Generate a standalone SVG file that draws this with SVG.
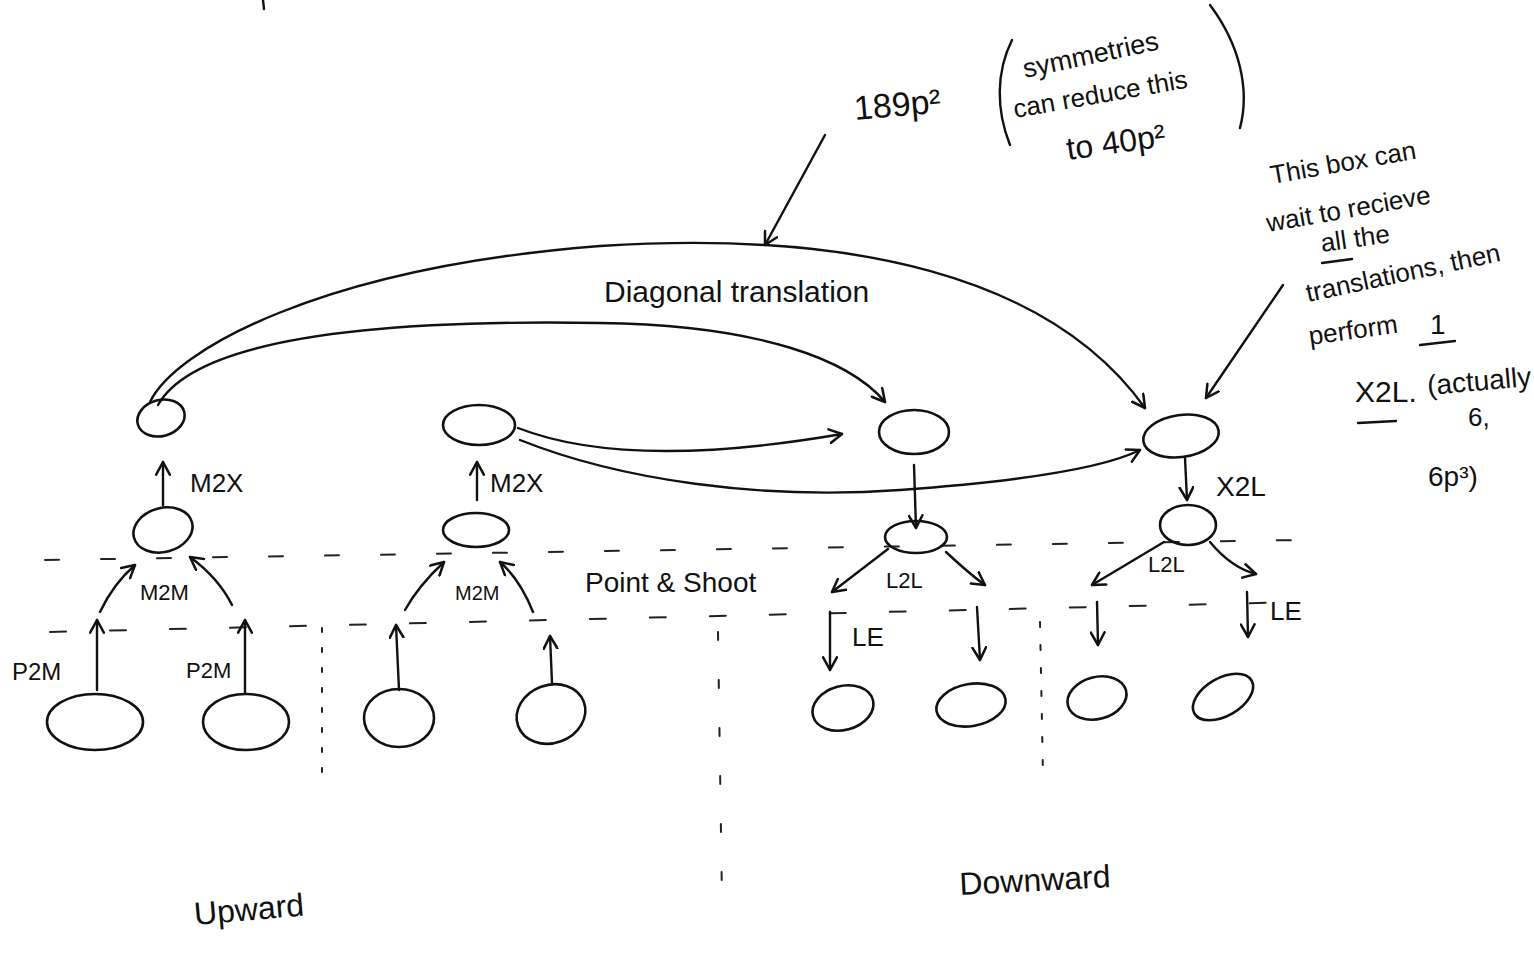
<svg xmlns="http://www.w3.org/2000/svg" width="1534" height="963" viewBox="0 0 1534 963">
<defs>
<marker id="ah" viewBox="0 0 14 14" refX="12" refY="7" markerWidth="16" markerHeight="16" markerUnits="userSpaceOnUse" orient="auto">
<path d="M1,1 L12,7 L1,13" fill="none" stroke="#111" stroke-width="2.2" stroke-linecap="round" stroke-linejoin="round"/>
</marker>
<style>
.n{fill:none;stroke:#111;stroke-width:2.6}
.c{fill:none;stroke:#111;stroke-width:2.4;stroke-linecap:round;marker-end:url(#ah)}
.l{fill:none;stroke:#111;stroke-width:2.4;stroke-linecap:round}
.d{fill:none;stroke:#222;stroke-width:2;stroke-linecap:round}
.t{font-family:"Liberation Sans",Arial,sans-serif;fill:#111}
</style>
</defs>
<rect width="1534" height="963" fill="#fff"/>
<line class="l" x1="263" y1="0" x2="264" y2="9"/>

<!-- dashed level lines -->
<g id="levels">
<path class="d" d="M45,560 L1300,540" stroke-dasharray="14 42"/>
<path class="d" d="M50,632 L1300,602" stroke-dasharray="16 44"/>
<path class="d" d="M322,628 L322,780" stroke-dasharray="4 16"/>
<path class="d" d="M718,632 L722,900" stroke-dasharray="8 40"/>
<path class="d" d="M1040,622 L1043,775" stroke-dasharray="5 18"/>
</g>

<g id="connectors">
<!-- long arcs -->
<path class="c" d="M150,402 C175,350 320,268 600,246 C850,230 1050,275 1145,408"/>
<path class="c" d="M158,405 C200,330 420,320 600,323 C760,325 850,360 885,402"/>
<path class="c" d="M518,428 C600,460 720,455 842,434"/>
<path class="c" d="M520,440 C620,480 760,500 900,490 C1010,482 1100,470 1140,450"/>
<!-- annotation arrows -->
<path class="c" d="M825,135 L765,245"/>
<path class="c" d="M1283,285 L1206,398"/>
<!-- upward left -->
<path class="c" d="M163,505 L163,462"/>
<path class="c" d="M100,612 C108,595 120,578 135,565"/>
<path class="c" d="M232,605 C222,585 205,568 190,557"/>
<path class="c" d="M97,690 L97,620"/>
<path class="c" d="M245,693 L245,620"/>
<!-- upward right -->
<path class="c" d="M477,500 L477,462"/>
<path class="c" d="M405,610 C415,592 430,575 444,562"/>
<path class="c" d="M533,612 C525,592 515,575 500,562"/>
<path class="c" d="M399,690 L396,625"/>
<path class="c" d="M552,683 L550,636"/>
<!-- downward left -->
<path class="c" d="M914,465 L916,528"/>
<path class="c" d="M888,549 L832,592"/>
<path class="c" d="M946,552 C960,565 975,578 985,585"/>
<path class="c" d="M830,612 L830,670"/>
<path class="c" d="M977,607 L980,660"/>
<!-- downward right -->
<path class="c" d="M1185,458 L1187,500"/>
<path class="c" d="M1164,542 L1092,585"/>
<path class="c" d="M1210,542 C1225,560 1240,570 1256,574"/>
<path class="c" d="M1097,602 L1098,645"/>
<path class="c" d="M1247,592 L1248,637"/>
</g>

<g id="n-upper-left-x"><ellipse class="n" cx="161" cy="418" rx="24" ry="18" transform="rotate(-15 161 418)"/></g>
<g id="n-upper-left-m"><ellipse class="n" cx="163" cy="530" rx="30" ry="22" transform="rotate(-15 163 530)"/></g>
<g id="n-leaf1"><ellipse class="n" cx="95" cy="722" rx="48" ry="28"/></g>
<g id="n-leaf2"><ellipse class="n" cx="246" cy="722" rx="43" ry="28"/></g>
<g id="n-upper-right-x"><ellipse class="n" cx="479" cy="425" rx="36" ry="20"/></g>
<g id="n-upper-right-m"><ellipse class="n" cx="476" cy="530" rx="33" ry="17"/></g>
<g id="n-leaf3"><ellipse class="n" cx="399" cy="718" rx="35" ry="29"/></g>
<g id="n-leaf4"><ellipse class="n" cx="551" cy="714" rx="35" ry="29" transform="rotate(-20 551 714)"/></g>
<g id="n-down-left-x"><ellipse class="n" cx="914" cy="432" rx="35" ry="22"/></g>
<g id="n-down-left-l"><ellipse class="n" cx="916" cy="537" rx="31" ry="16"/></g>
<g id="n-leaf5"><ellipse class="n" cx="843" cy="708" rx="31" ry="22" transform="rotate(-15 843 708)"/></g>
<g id="n-leaf6"><ellipse class="n" cx="971" cy="705" rx="35" ry="21" transform="rotate(-10 971 705)"/></g>
<g id="n-down-right-x"><ellipse class="n" cx="1181" cy="436" rx="38" ry="21" transform="rotate(-8 1181 436)"/></g>
<g id="n-down-right-l"><ellipse class="n" cx="1188" cy="525" rx="28" ry="20"/></g>
<g id="n-leaf7"><ellipse class="n" cx="1097" cy="698" rx="30" ry="21" transform="rotate(-15 1097 698)"/></g>
<g id="n-leaf8"><ellipse class="n" cx="1223" cy="697" rx="33" ry="19" transform="rotate(-30 1223 697)"/></g>

<g id="labels" class="t">
<text x="190" y="492" font-size="26">M2X</text>
<text x="140" y="600" font-size="22">M2M</text>
<text x="12" y="680" font-size="24">P2M</text>
<text x="186" y="678" font-size="22">P2M</text>
<text x="490" y="492" font-size="26">M2X</text>
<text x="455" y="600" font-size="20">M2M</text>
<text x="585" y="592" font-size="28">Point &amp; Shoot</text>
<text x="886" y="588" font-size="22">L2L</text>
<text x="852" y="646" font-size="26">LE</text>
<text x="1148" y="572" font-size="22">L2L</text>
<text x="1270" y="620" font-size="26">LE</text>
<text x="1216" y="496" font-size="28">X2L</text>
<text x="604" y="302" font-size="30">Diagonal translation</text>
<text x="855" y="120" font-size="34" transform="rotate(-5 855 120)">189p²</text>
<path class="l" d="M1012,40 C996,72 996,110 1010,145"/>
<path class="l" d="M1210,5 C1240,45 1250,90 1240,128"/>
<text x="1025" y="78" font-size="27" transform="rotate(-12 1025 78)">symmetries</text>
<text x="1015" y="118" font-size="26" transform="rotate(-10 1015 118)">can reduce this</text>
<text x="1068" y="160" font-size="32" transform="rotate(-8 1068 160)">to 40p²</text>
<g font-size="26">
<text x="1272" y="184" transform="rotate(-10 1272 184)">This box can</text>
<text x="1268" y="232" transform="rotate(-10 1268 232)">wait to recieve</text>
<text x="1322" y="252" transform="rotate(-8 1322 252)">all the</text>
<line class="l" x1="1322" y1="263" x2="1352" y2="259"/>
<text x="1308" y="302" transform="rotate(-12 1308 302)">translations, then</text>
<text x="1310" y="345" transform="rotate(-8 1310 345)">perform</text>
<text x="1430" y="334" font-size="28">1</text>
<line class="l" x1="1420" y1="345" x2="1455" y2="341"/>
<text x="1355" y="402" font-size="30">X2L.</text>
<line class="l" x1="1358" y1="423" x2="1396" y2="421"/>
<text x="1428" y="395" font-size="28" transform="rotate(-5 1428 395)">(actually</text>
<text x="1468" y="426">6,</text>
<text x="1428" y="486" font-size="28">6p³)</text>
</g>
<text x="195" y="925" font-size="32" transform="rotate(-5 195 925)">Upward</text>
<text x="960" y="895" font-size="32" transform="rotate(-3 960 895)">Downward</text>
</g>
</svg>
